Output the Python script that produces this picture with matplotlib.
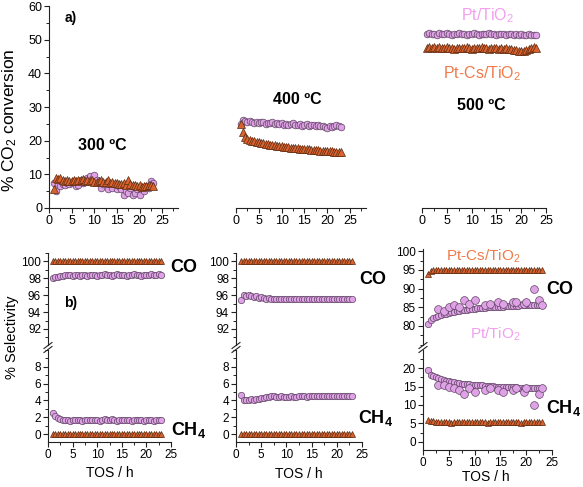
import matplotlib
matplotlib.use('Agg')
import matplotlib.pyplot as plt
from matplotlib.lines import Line2D
from matplotlib.ticker import MultipleLocator

plt.rcParams['font.family'] = ['Liberation Sans', 'DejaVu Sans']
plt.rcParams['mathtext.default'] = 'regular'

# ---------------- data ----------------
tos = [1.0, 1.5, 2.0, 2.5, 3.0, 3.5, 4.0, 4.5, 5.0, 5.5, 6.0, 6.5, 7.0, 7.5, 8.0,
       8.5, 9.0, 9.5, 10.0, 10.5, 11.0, 11.5, 12.0, 12.5, 13.0, 13.5, 14.0, 14.5,
       15.0, 15.5, 16.0, 16.5, 17.0, 17.5, 18.0, 18.5, 19.0, 19.5, 20.0, 20.5,
       21.0, 21.5, 22.0, 22.5, 23.0]

# CO2 conversion (%)
conv_pt_300 = [7.5, 5.0, 7.0, 6.5, 7.2, 6.8, 7.5, 7.0, 7.3, 8.0, 6.5, 6.8, 8.2, 7.5, 7.8,
               9.0, 9.5, 8.5, 9.8, 8.2, 7.5, 6.0, 7.0, 7.5, 5.5, 7.2, 6.0, 7.0, 5.5, 6.5,
               5.5, 4.0, 5.0, 4.5, 6.0, 4.0, 4.5, 5.5, 4.0, 6.0, 5.0, 6.5, 6.0, 8.0, 7.5]
conv_cs_300 = [5.5, 9.0, 8.6, 8.8, 8.3, 8.0, 8.2, 7.9, 8.1, 8.3, 8.0, 8.4, 8.2, 8.5, 8.1,
               8.3, 8.0, 8.2, 7.8, 7.6, 7.9, 8.3, 7.6, 7.8, 8.2, 7.5, 7.7, 7.3, 7.5, 7.2,
               7.0, 7.3, 6.9, 8.3, 7.0, 6.8, 6.7, 6.5, 6.9, 6.3, 6.5, 6.6, 6.8, 6.7, 6.5]
conv_pt_400 = [25.0, 26.0, 25.8, 25.6, 25.7, 25.5, 25.3, 25.6, 25.2, 25.4, 25.6, 25.0, 25.3,
               25.1, 25.4, 25.0, 25.2, 24.9, 25.1, 24.8, 25.0, 24.7, 24.9, 25.1, 24.6, 24.8,
               24.9, 24.5, 24.7, 24.9, 24.4, 24.6, 24.8, 24.3, 24.6, 24.5, 24.3, 24.2, 23.8,
               24.4, 24.0, 24.5, 24.7, 24.3, 24.0]
conv_cs_400 = [25.0, 22.5, 21.0, 20.5, 20.2, 20.0, 19.8, 19.6, 19.5, 19.3, 19.2, 19.0, 18.9,
               18.8, 18.7, 18.6, 18.5, 18.4, 18.3, 18.2, 18.1, 18.0, 17.9, 17.9, 17.8, 17.7,
               17.6, 17.6, 17.5, 17.4, 17.4, 17.3, 17.2, 17.2, 17.1, 17.0, 17.0, 16.9, 16.9,
               16.8, 16.8, 16.7, 16.7, 16.6, 16.5]
conv_pt_500 = [51.6, 51.9, 51.7, 51.8, 51.5, 51.9, 51.7, 51.6, 51.9, 51.8, 51.5, 51.8, 51.7,
               51.9, 51.6, 51.7, 51.5, 51.8, 51.6, 51.9, 51.7, 51.5, 51.8, 51.6, 51.7, 51.9,
               51.6, 51.8, 51.5, 51.7, 51.6, 51.8, 51.5, 51.7, 51.6, 51.4, 51.7, 51.5, 51.6,
               51.3, 51.5, 51.6, 51.4, 51.5, 51.3]
conv_cs_500 = [47.6, 47.9, 47.5, 47.8, 47.6, 47.7, 47.4, 47.6, 47.8, 47.5, 47.6, 47.3, 47.5,
               47.6, 47.4, 47.6, 47.7, 47.5, 47.3, 47.6, 47.4, 47.5, 47.7, 47.4, 47.6, 47.3,
               47.5, 47.6, 47.4, 47.2, 47.5, 47.3, 47.4, 47.1, 47.3, 47.0, 46.8, 46.7, 46.5,
               46.6, 46.8, 47.3, 47.5, 47.8, 47.6]

# Selectivity (%)
co_pt_300 = [98.0, 98.1, 98.2, 98.3, 98.3, 98.4, 98.4, 98.4, 98.3, 98.4, 98.4, 98.3, 98.4,
             98.4, 98.3, 98.4, 98.4, 98.4, 98.3, 98.4, 98.4, 98.5, 98.4, 98.4, 98.3, 98.4,
             98.5, 98.4, 98.4, 98.4, 98.3, 98.4, 98.4, 98.5, 98.4, 98.4, 98.3, 98.4, 98.4,
             98.4, 98.5, 98.4, 98.4, 98.5, 98.4]
ch4_pt_300 = [2.5, 2.1, 1.9, 1.8, 1.7, 1.7, 1.7, 1.6, 1.7, 1.7, 1.7, 1.7, 1.6, 1.7, 1.7,
              1.7, 1.7, 1.7, 1.7, 1.6, 1.7, 1.8, 1.7, 1.7, 1.8, 1.7, 1.6, 1.7, 1.7, 1.7,
              1.7, 1.7, 1.6, 1.7, 1.7, 1.7, 1.7, 1.6, 1.7, 1.7, 1.7, 1.6, 1.7, 1.7, 1.7]
co_pt_400 = [95.4, 96.0, 95.9, 96.0, 95.9, 95.8, 95.9, 95.7, 95.8, 95.7, 95.6, 95.7, 95.5,
             95.6, 95.6, 95.6, 95.6, 95.6, 95.6, 95.6, 95.6, 95.6, 95.6, 95.6, 95.6, 95.6,
             95.5, 95.6, 95.5, 95.5, 95.5, 95.5, 95.5, 95.5, 95.5, 95.5, 95.5, 95.5, 95.5,
             95.5, 95.5, 95.5, 95.5, 95.5, 95.5]
ch4_pt_400 = [4.6, 4.0, 4.1, 4.1, 4.2, 4.1, 4.2, 4.2, 4.3, 4.3, 4.4, 4.4, 4.5, 4.5, 4.4,
              4.4, 4.5, 4.4, 4.4, 4.4, 4.5, 4.4, 4.4, 4.5, 4.5, 4.5, 4.4, 4.5, 4.5, 4.5,
              4.5, 4.5, 4.5, 4.5, 4.5, 4.5, 4.5, 4.5, 4.5, 4.5, 4.5, 4.5, 4.5, 4.5, 4.5]
co_pt_500 = [80.5, 81.5, 82.0, 82.3, 82.6, 82.9, 83.1, 83.3, 83.5, 83.7, 83.8, 84.0, 84.1,
             84.2, 84.3, 84.4, 84.5, 84.6, 84.6, 84.7, 84.8, 84.8, 84.9, 85.0, 85.0, 85.1,
             85.1, 85.2, 85.2, 85.2, 85.3, 85.3, 85.3, 85.4, 85.4, 85.4, 85.5, 85.5, 85.5,
             85.5, 85.6, 85.6, 85.6, 85.6, 85.6]
co_cs_500 = [94.0, 94.6, 94.9, 95.0, 95.0, 95.0, 95.0, 95.1, 95.0, 95.0, 95.1, 95.0, 95.0,
             95.1, 95.0, 95.0, 95.1, 95.0, 95.0, 95.1, 95.0, 95.0, 95.1, 95.0, 95.0, 95.1,
             95.0, 95.0, 95.1, 95.0, 95.0, 95.1, 95.0, 95.0, 95.1, 95.0, 95.0, 95.1, 95.0,
             95.0, 95.1, 95.0, 95.0, 95.1, 95.1]
ch4_pt_500 = [19.5, 18.2, 17.8, 17.5, 17.2, 17.0, 16.8, 16.6, 16.4, 16.3, 16.1, 16.0, 15.9,
              15.8, 15.7, 15.6, 15.6, 15.5, 15.4, 15.4, 15.3, 15.3, 15.2, 15.2, 15.1, 15.1,
              15.0, 15.0, 15.0, 14.9, 14.9, 14.9, 14.8, 14.8, 14.8, 14.7, 14.7, 14.7, 14.6,
              14.6, 14.6, 14.6, 14.5, 14.5, 14.5]
ch4_cs_500 = [6.0, 5.7, 5.6, 5.5, 5.5, 5.5, 5.5, 5.5, 5.5, 5.0, 5.5, 5.5, 5.5, 5.5, 5.5,
              5.5, 5.5, 5.5, 5.5, 5.5, 5.5, 5.5, 5.5, 5.0, 5.5, 5.5, 5.5, 5.5, 5.5, 5.5,
              5.5, 5.5, 5.5, 5.5, 5.5, 5.5, 5.0, 5.5, 5.5, 5.5, 5.5, 5.5, 5.5, 5.5, 5.5]
sel_cs_co = [100.0] * 45   # Pt-Cs/TiO2 CO selectivity at 300 and 400 ºC
sel_cs_ch4 = [0.0] * 45    # Pt-Cs/TiO2 CH4 selectivity at 300 and 400 ºC

# scattered Pt/TiO2 points at 500 ºC
tos_sc = [3.0, 4.0, 5.0, 6.0, 7.0, 8.0, 9.0, 10.0, 12.0, 13.0, 14.5, 15.5, 17.5, 18.0,
          19.5, 20.0, 21.5, 22.5, 23.0]
co_pt_500_sc = [84.5, 84.0, 85.0, 85.5, 85.0, 87.0, 86.0, 87.0, 85.5, 86.0, 86.5, 86.0,
                86.5, 86.5, 86.0, 86.5, 90.0, 87.0, 85.5]
ch4_pt_500_sc = [15.5, 15.5, 15.0, 14.5, 14.0, 13.0, 14.5, 13.5, 14.0, 14.5, 14.0, 13.5,
                 14.0, 14.5, 13.5, 14.5, 10.0, 13.0, 14.5]

# ---------------- style ----------------
PINK, PINK_E = '#e0a2e6', '#5e4562'
ORNG, ORNG_E = '#d9632e', '#5a2a12'
PINK_T, ORNG_T = '#f29ff0', '#f07a48'

W, H = 583, 487
fig = plt.figure(figsize=(W / 100, H / 100), dpi=100)


def rect(x0, y0, x1, y1):
    return [x0 / W, 1 - y1 / H, (x1 - x0) / W, (y1 - y0) / H]


def P(x, y):
    return (x / W, 1 - y / H)


def ptplot(ax, x, y, ms=4.6):
    ax.plot(x, y, 'o', ms=ms, mfc=PINK, mec=PINK_E, mew=0.5, ls='none')


def csplot(ax, x, y, ms=5.0):
    ax.plot(x, y, '^', ms=ms, mfc=ORNG, mec=ORNG_E, mew=0.5, ls='none')


def style(ax, left=True, bottom=True):
    ax.spines['top'].set_visible(False)
    ax.spines['right'].set_visible(False)
    for s in ax.spines.values():
        s.set_linewidth(0.8)
        s.set_color('#222222')
    ax.tick_params(which='major', direction='out', length=3.5, width=0.8,
                   labelsize=8.5, pad=1.5, colors='#222222')
    ax.tick_params(which='minor', direction='out', length=2, width=0.7, colors='#222222')
    ax.tick_params(axis='both', labelcolor='black')
    if not left:
        ax.spines['left'].set_visible(False)
        ax.tick_params(axis='y', which='both', left=False, labelleft=False)
    if not bottom:
        ax.spines['bottom'].set_visible(False)
        ax.tick_params(axis='x', which='both', bottom=False, labelbottom=False)


# ---------------- top row: conversion ----------------
top_specs = [
    (rect(49, 6, 178, 208), 28.5, conv_pt_300, conv_cs_300, True),
    (rect(236, 6, 366, 208), 28.5, conv_pt_400, conv_cs_400, False),
    (rect(422, 6, 546, 208), 25.0, conv_pt_500, conv_cs_500, False),
]
for r, xmax, ptv, csv, left in top_specs:
    ax = fig.add_axes(r)
    ax.patch.set_alpha(0)
    ptplot(ax, tos, ptv, ms=4.8)
    csplot(ax, tos, csv, ms=5.2)
    ax.set_xlim(0, xmax)
    ax.set_ylim(0, 60)
    ax.xaxis.set_major_locator(MultipleLocator(5))
    ax.xaxis.set_minor_locator(MultipleLocator(2.5))
    ax.yaxis.set_major_locator(MultipleLocator(10))
    ax.yaxis.set_minor_locator(MultipleLocator(5))
    style(ax, left=left)
    ax.tick_params(labelsize=9)

# ---------------- bottom row: selectivity (broken axes) ----------------
bot_specs = [
    dict(x0=48, x1=171, top=(253, 345), bot=(350, 442), ylt=(90.1, 101), ylb=(-0.95, 10.0),
         mt=2, mnt=1, mb=2, mnb=1, ytt=[92, 94, 96, 98, 100], ytb=[0, 2, 4, 6, 8],
         co_pt=co_pt_300, co_cs=sel_cs_co, ch_pt=ch4_pt_300, ch_cs=sel_cs_ch4),
    dict(x0=236, x1=362, top=(253, 345), bot=(350, 442), ylt=(90.1, 101), ylb=(-0.95, 10.0),
         mt=2, mnt=1, mb=2, mnb=1, ytt=[92, 94, 96, 98, 100], ytb=[0, 2, 4, 6, 8],
         co_pt=co_pt_400, co_cs=sel_cs_co, ch_pt=ch4_pt_400, ch_cs=sel_cs_ch4),
    dict(x0=423, x1=552, top=(249, 345), bot=(350, 450), ylt=(74.9, 100.6), ylb=(-2.2, 24.9),
         mt=5, mnt=2.5, mb=5, mnb=2.5, ytt=[80, 85, 90, 95, 100], ytb=[0, 5, 10, 15, 20],
         co_pt=co_pt_500, co_cs=co_cs_500, ch_pt=ch4_pt_500, ch_cs=ch4_cs_500),
]
for i, s in enumerate(bot_specs):
    axt = fig.add_axes(rect(s['x0'], s['top'][0], s['x1'], s['top'][1]))
    axb = fig.add_axes(rect(s['x0'], s['bot'][0], s['x1'], s['bot'][1]))
    for a in (axt, axb):
        a.patch.set_alpha(0)
        a.set_xlim(0, 25)
        a.xaxis.set_major_locator(MultipleLocator(5))
        a.xaxis.set_minor_locator(MultipleLocator(2.5))
    ptplot(axt, tos, s['co_pt'])
    csplot(axt, tos, s['co_cs'])
    ptplot(axb, tos, s['ch_pt'])
    csplot(axb, tos, s['ch_cs'])
    if i == 2:
        ptplot(axt, tos_sc, co_pt_500_sc, ms=5.6)
        ptplot(axb, tos_sc, ch4_pt_500_sc, ms=5.6)
    axt.set_ylim(*s['ylt'])
    axb.set_ylim(*s['ylb'])
    axt.set_yticks(s['ytt'])
    axb.set_yticks(s['ytb'])
    axt.yaxis.set_minor_locator(MultipleLocator(s['mnt']))
    axb.yaxis.set_minor_locator(MultipleLocator(s['mnb']))
    style(axt, bottom=False)
    style(axb)
    # break marks
    xb = s['x0']
    yg = (s['top'][1] + s['bot'][0]) / 2
    for dy in (-2.0, 2.0):
        fig.add_artist(Line2D([(xb - 4) / W, (xb + 4) / W],
                              [1 - (yg + dy + 3) / H, 1 - (yg + dy - 3) / H],
                              color='#222222', lw=0.8))

# ---------------- texts ----------------
fig.text(*P(10, 120), '% CO$_2$ conversion', rotation=90, ha='center', va='center', fontsize=12.5)
fig.text(*P(12, 337), '% Selectivity', rotation=90, ha='center', va='center', fontsize=10.5)
for xc, yc in [(110, 473), (299, 474), (486, 477)]:
    fig.text(*P(xc, yc), 'TOS / h', ha='center', va='center', fontsize=10)

fig.text(*P(71, 18), 'a)', ha='center', va='center', fontsize=10, fontweight='bold')
fig.text(*P(71, 303), 'b)', ha='center', va='center', fontsize=10, fontweight='bold')
fig.text(*P(102, 146), '300 ºC', ha='center', va='center', fontsize=11.5, fontweight='bold')
fig.text(*P(297, 99), '400 ºC', ha='center', va='center', fontsize=11.5, fontweight='bold')
fig.text(*P(481, 105), '500 ºC', ha='center', va='center', fontsize=11.5, fontweight='bold')
fig.text(*P(488, 16), 'Pt/TiO$_2$', ha='center', va='center', fontsize=11.5, color=PINK_T)
fig.text(*P(482, 74), 'Pt-Cs/TiO$_2$', ha='center', va='center', fontsize=11.5, color=ORNG_T)
fig.text(*P(483, 256), 'Pt-Cs/TiO$_2$', ha='center', va='center', fontsize=11, color=ORNG_T)
fig.text(*P(495, 334), 'Pt/TiO$_2$', ha='center', va='center', fontsize=11, color=PINK_T)

for xc, yc in [(184, 268), (373, 279), (560, 290)]:
    fig.text(*P(xc, yc), 'CO', ha='center', va='center', fontsize=13, fontweight='bold')
for xc, yc in [(189, 430), (376, 418), (564, 408)]:
    fig.text(*P(xc, yc), 'CH$_4$', ha='center', va='center', fontsize=13, fontweight='bold')

fig.savefig('out.png', dpi=100)
